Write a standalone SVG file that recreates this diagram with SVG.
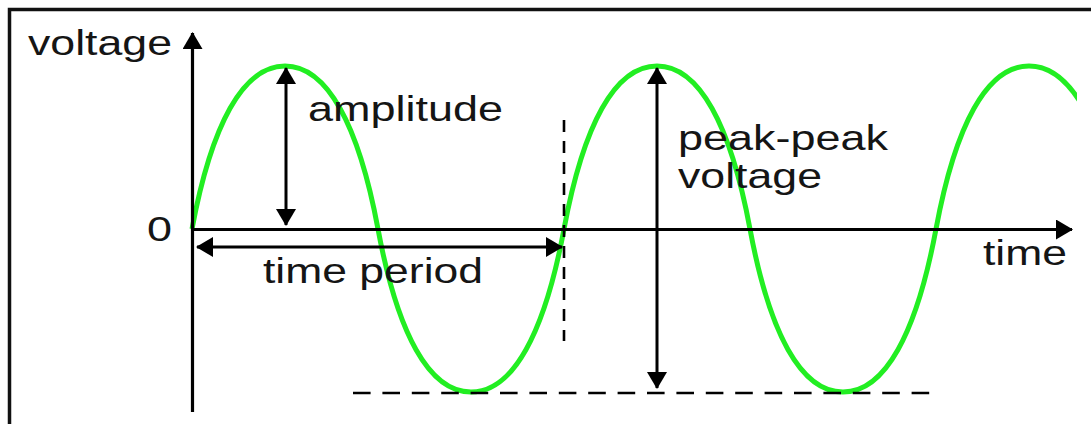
<svg xmlns="http://www.w3.org/2000/svg" width="1091" height="424" viewBox="0 0 1091 424">
  <style>
    .lbl { font-family: "Liberation Sans", Arial, sans-serif; font-size: 35px; fill: #151515; }
    .ax { stroke: #000; stroke-width: 3.2; fill: none; }
    .arr { stroke: #000; stroke-width: 3; fill: none; }
    .dash { stroke: #000; stroke-width: 2.6; fill: none; }
    .wave { stroke: #22ee22; stroke-width: 5; fill: none; }
  </style>
  <defs>
    <marker id="ah" markerUnits="userSpaceOnUse" viewBox="0 0 17 20" refX="16" refY="10" markerWidth="17" markerHeight="20" orient="auto-start-reverse">
      <path d="M0,0 L17,10 L0,20 Z" fill="#000"/>
    </marker>
    <clipPath id="wclip">
      <rect x="0" y="0" width="1077" height="424"/>
    </clipPath>
  </defs>
  <rect width="1091" height="424" fill="#fff"/>
  <rect x="9.5" y="9.5" width="1100" height="430" fill="none" stroke="#111" stroke-width="3.5"/>

  <g id="waveform" clip-path="url(#wclip)">
    <path class="wave" d="M192,229
      c19.5,-104.6 51,-163 93,-163
      c42,0 73.5,58.4 93,163
      c19.5,104.6 51,163 93,163
      c42,0 73.5,-58.4 93,-163
      c19.5,-104.6 51,-163 93,-163
      c42,0 73.5,58.4 93,163
      c19.5,104.6 51,163 93,163
      c42,0 73.5,-58.4 93,-163
      c19.5,-104.6 51,-163 93,-163
      c42,0 73.5,58.4 93,163"/>
  </g>

  <g id="connectors">
    <line id="y-axis" class="ax" x1="192.5" y1="412" x2="192.5" y2="33" marker-end="url(#ah)"/>
    <line id="x-axis" class="ax" x1="192" y1="229.5" x2="1072" y2="229.5" marker-end="url(#ah)"/>
    <line id="amplitude-arrow" class="arr" x1="286" y1="68" x2="286" y2="225" marker-start="url(#ah)" marker-end="url(#ah)"/>
    <line id="period-arrow" class="arr" x1="197" y1="247" x2="562" y2="247" marker-start="url(#ah)" marker-end="url(#ah)"/>
    <line id="peak-peak-arrow" class="arr" x1="657" y1="68" x2="657" y2="388" marker-start="url(#ah)" marker-end="url(#ah)"/>
    <line id="period-dash" class="dash" x1="564" y1="120" x2="564" y2="341" stroke-dasharray="12 9"/>
    <line id="trough-dash" class="dash" x1="353" y1="393" x2="932" y2="393" stroke-dasharray="17.6 11.8"/>
  </g>

  <g id="label-voltage"><text class="lbl" x="28" y="55" textLength="144" lengthAdjust="spacingAndGlyphs">voltage</text></g>
  <g id="label-zero"><text class="lbl" x="147" y="241" textLength="25" lengthAdjust="spacingAndGlyphs">0</text></g>
  <g id="label-amplitude"><text class="lbl" x="308" y="121" textLength="195" lengthAdjust="spacingAndGlyphs">amplitude</text></g>
  <g id="label-peak-peak">
    <text class="lbl" x="678" y="150" textLength="210" lengthAdjust="spacingAndGlyphs">peak-peak</text>
    <text class="lbl" x="678" y="188" textLength="144" lengthAdjust="spacingAndGlyphs">voltage</text>
  </g>
  <g id="label-time-period"><text class="lbl" x="263" y="283" textLength="220" lengthAdjust="spacingAndGlyphs">time period</text></g>
  <g id="label-time"><text class="lbl" x="983" y="265" textLength="84" lengthAdjust="spacingAndGlyphs">time</text></g>
</svg>
